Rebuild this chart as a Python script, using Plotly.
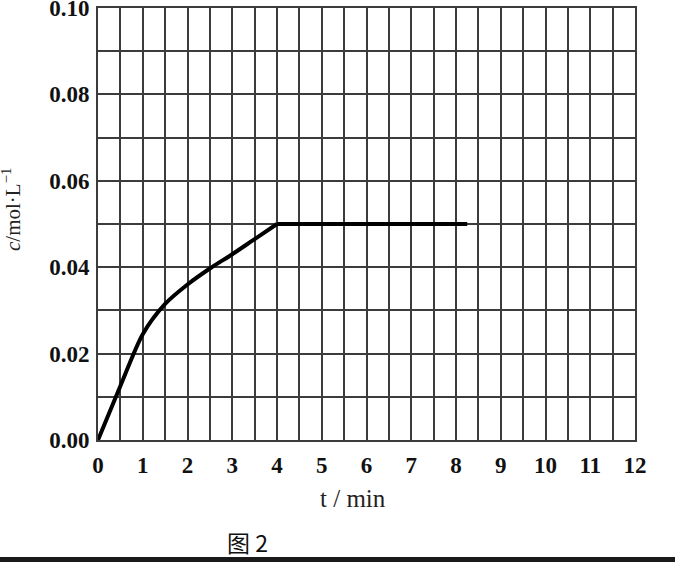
import plotly.graph_objects as go

# Data
t_min = [0, 0.5, 1, 1.5, 2, 2.5, 3, 3.5, 4, 8.25]
conc = [0, 0.0125, 0.0245, 0.0315, 0.036, 0.0397, 0.043, 0.0465, 0.05, 0.05]

x_ticks = list(range(0, 13))
y_ticks = [0.0, 0.02, 0.04, 0.06, 0.08, 0.10]

W, H = 675, 562
L, R, T, B = 98, 40, 8, 122
pw, ph = W - L - R, H - T - B

def px(xp):
    return (xp - L) / pw

def py(yp):
    return (H - B - yp) / ph

grid_col = "#3c3c3c"
serif = "Liberation Serif, Times New Roman, serif"

fig = go.Figure()
# rising (curved) part up to t = 4 min
fig.add_trace(go.Scatter(x=t_min[:9], y=conc[:9], mode="lines",
                         line=dict(color="black", width=4, shape="spline", smoothing=0.8),
                         hoverinfo="skip", showlegend=False))
# plateau after t = 4 min
fig.add_trace(go.Scatter(x=t_min[8:], y=conc[8:], mode="lines",
                         line=dict(color="black", width=4),
                         hoverinfo="skip", showlegend=False))

fig.update_layout(
    width=W, height=H,
    margin=dict(l=L, r=R, t=T, b=B, autoexpand=False),
    paper_bgcolor="white", plot_bgcolor="white",
    showlegend=False,
    xaxis=dict(range=[0, 12], tickvals=x_ticks, ticktext=[str(v) for v in x_ticks],
               showgrid=True, gridcolor=grid_col, gridwidth=1.6,
               minor=dict(dtick=0.5, tick0=0, showgrid=True, gridcolor=grid_col, gridwidth=1.6),
               showline=True, linecolor=grid_col, linewidth=1.6, mirror=True,
               zeroline=False, ticks="", ticklabelstandoff=4, ticklabeloverflow="allow",
               tickfont=dict(family=serif, size=23, color="#111", weight="bold"),
               automargin=False, fixedrange=True),
    yaxis=dict(range=[0, 0.1000001], tickvals=y_ticks, tickformat=".2f",
               showgrid=True, gridcolor=grid_col, gridwidth=1.6,
               minor=dict(dtick=0.01, tick0=0, showgrid=True, gridcolor=grid_col, gridwidth=1.6),
               showline=True, linecolor=grid_col, linewidth=1.6, mirror=True,
               zeroline=False, ticks="", ticklabelstandoff=2, ticklabeloverflow="allow",
               tickfont=dict(family=serif, size=23, color="#111", weight="bold"),
               automargin=False, fixedrange=True),
    annotations=[
        dict(text="t / min", xref="paper", yref="paper", x=px(353), y=py(498),
             showarrow=False, font=dict(family=serif, size=25, color="#222"),
             xanchor="center", yanchor="middle"),
        dict(text="<i>c</i>/mol·L<sup>−1</sup>", xref="paper", yref="paper",
             x=px(11), y=py(210), textangle=-90, showarrow=False,
             font=dict(family=serif, size=21, color="#222"),
             xanchor="center", yanchor="middle"),
        dict(text="图 2", xref="paper", yref="paper", x=px(247), y=py(542),
             showarrow=False, font=dict(family="Noto Sans CJK SC", size=23, color="#111"),
             xanchor="center", yanchor="middle"),
    ],
    shapes=[
        dict(type="rect", xref="paper", yref="paper",
             x0=px(0), x1=px(W), y0=py(562), y1=py(557),
             fillcolor="#1a1a1a", line=dict(width=0), layer="above"),
    ],
)

fig.write_html("out.html", config={"displayModeBar": False},
               post_script="document.body.style.margin='0';")
